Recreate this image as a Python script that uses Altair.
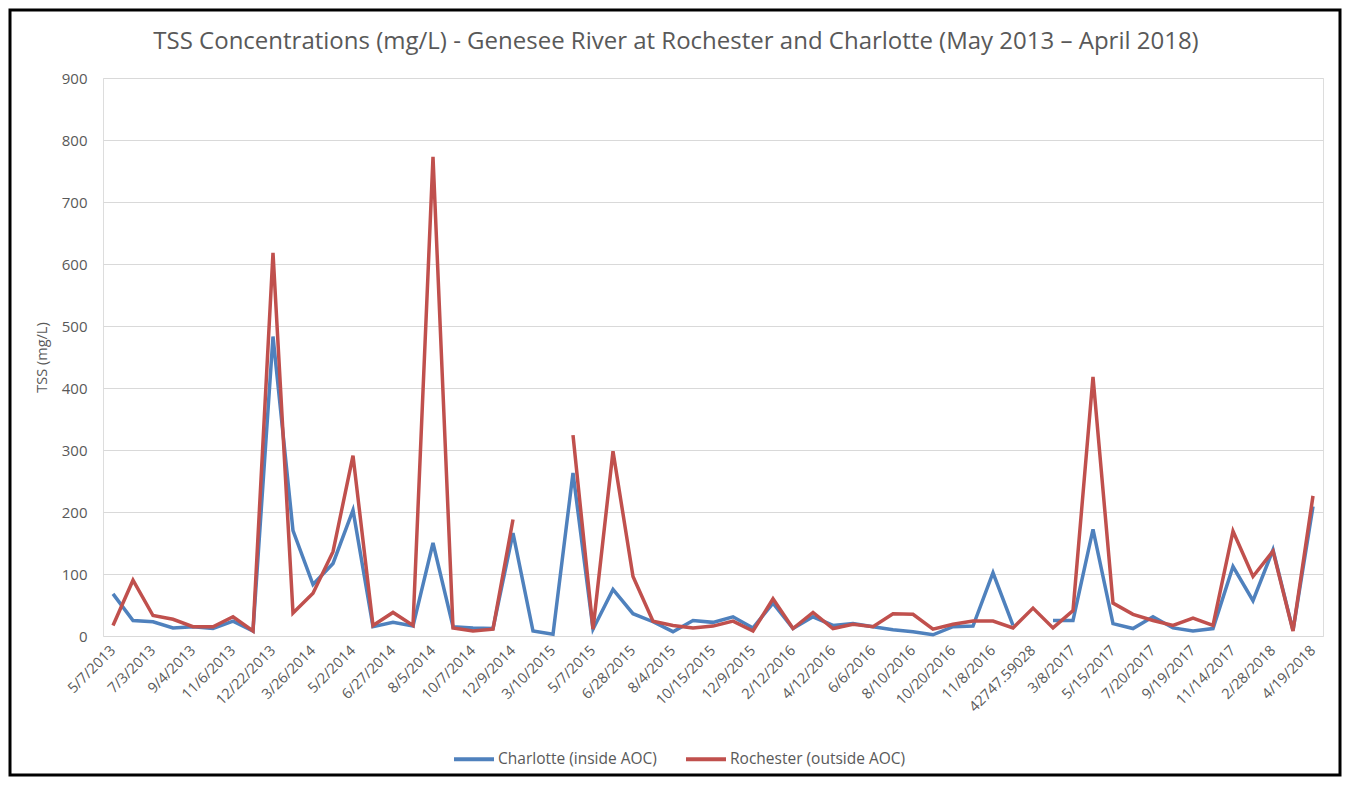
import altair as alt
import pandas as pd

# X-axis category labels (every second category is labelled in the reference)
tick_labels = ["5/7/2013", "7/3/2013", "9/4/2013", "11/6/2013", "12/22/2013", "3/26/2014",
               "5/2/2014", "6/27/2014", "8/5/2014", "10/7/2014", "12/9/2014", "3/10/2015",
               "5/7/2015", "6/28/2015", "8/4/2015", "10/15/2015", "12/9/2015", "2/12/2016",
               "4/12/2016", "6/6/2016", "8/10/2016", "10/20/2016", "11/8/2016", "42747.59028",
               "3/8/2017", "5/15/2017", "7/20/2017", "9/19/2017", "11/14/2017", "2/28/2018",
               "4/19/2018"]

series_names = ["Charlotte (inside AOC)", "Rochester (outside AOC)"]

title_text = "TSS Concentrations (mg/L) - Genesee River at Rochester and Charlotte (May 2013 \u2013 April 2018)"

# TSS (mg/L), one value per sampling event (61 events), None = no data
charlotte = [68, 25, 23, 13, 15, 12, 24, 8, 483, 170,
             83, 117, 203, 15, 22, 16, 150, 15, 13, 12,
             166, 8, 3, 263, 11, 75, 36, 23, 7, 25,
             22, 31, 13, 53, 12, 31, 17, 20, 15, 10,
             7, 2, 15, 16, 102, 17, None, 25, 25, 172,
             20, 12, 31, 13, 8, 12, 112, 57, 139, 9,
             209]
rochester = [17, 90, 33, 27, 15, 15, 31, 8, 618, 37,
             69, 136, 291, 17, 38, 17, 773, 13, 8, 11,
             188, None, None, 324, 11, 298, 96, 24, 17, 13,
             16, 24, 8, 60, 12, 38, 12, 19, 15, 36,
             35, 11, 19, 24, 24, 13, 45, 13, 41, 418,
             53, 35, 25, 17, 29, 17, 169, 96, 137, 8,
             226]

rows = []
for name, vals in zip(series_names, [charlotte, rochester]):
    for i, v in enumerate(vals):
        rows.append({"idx": i, "series": name, "tss": v})
df = pd.DataFrame(rows)

n = len(charlotte)
label_array = "[" + ",".join("'" + s + "'" for s in tick_labels) + "]"
label_expr = label_array + "[round(datum.value / 2)]"

FONT = "Open Sans"
GRAY = "#595959"
W, H = 1220, 558

lines = alt.Chart(df).mark_line(strokeWidth=3.5, invalid="break-paths-show-domains").encode(
    x=alt.X("idx:Q",
            scale=alt.Scale(domain=[-0.5, n - 0.5], nice=False, zero=False),
            axis=alt.Axis(values=list(range(0, n, 2)), labelExpr=label_expr,
                          labelAngle=-45, labelAlign="right", labelBaseline="middle",
                          labelPadding=12, grid=False, domain=False, ticks=False,
                          labelFont=FONT, labelFontSize=14.5, labelColor=GRAY,
                          labelOverlap=False, title=None)),
    y=alt.Y("tss:Q",
            scale=alt.Scale(domain=[0, 900], nice=False),
            axis=alt.Axis(values=list(range(0, 901, 100)), grid=True, gridColor="#D9D9D9",
                          gridWidth=1, domain=False, ticks=False, labelPadding=16,
                          labelFont=FONT, labelFontSize=15, labelColor=GRAY,
                          title="TSS (mg/L)", titleFont=FONT, titleFontSize=14.5,
                          titleFontWeight="normal", titleColor=GRAY, titlePadding=12)),
    color=alt.Color("series:N",
                    scale=alt.Scale(domain=series_names, range=["#4F81BD", "#C0504D"]),
                    legend=alt.Legend(title=None, orient="none", direction="horizontal",
                                      legendX=349, legendY=659, symbolType="stroke",
                                      symbolSize=1600, symbolStrokeWidth=4,
                                      labelFont=FONT, labelFontSize=15.5, labelColor=GRAY,
                                      labelOffset=2, columnPadding=21, labelLimit=0)),
)

title = alt.Chart(alt.Data(values=[{}])).mark_text(
    font=FONT, fontSize=24, color=GRAY, align="center", baseline="middle"
).encode(
    x=alt.value(573), y=alt.value(-36), text=alt.value(title_text)
)

frame = alt.Chart(alt.Data(values=[{}])).mark_rect(
    filled=False, stroke="black", strokeWidth=3
).encode(
    x=alt.value(-93), x2=alt.value(W + 17),
    y=alt.value(-68), y2=alt.value(H + 139),
)

chart = alt.layer(lines, title, frame).properties(
    width=W, height=H,
    padding={"left": 95, "top": 70, "right": 19, "bottom": 141},
    autosize=alt.AutoSizeParams(type="none"),
).configure_view(stroke=None).configure(background="white")

chart.save("out.html", embed_options={"renderer": "svg", "actions": False})
